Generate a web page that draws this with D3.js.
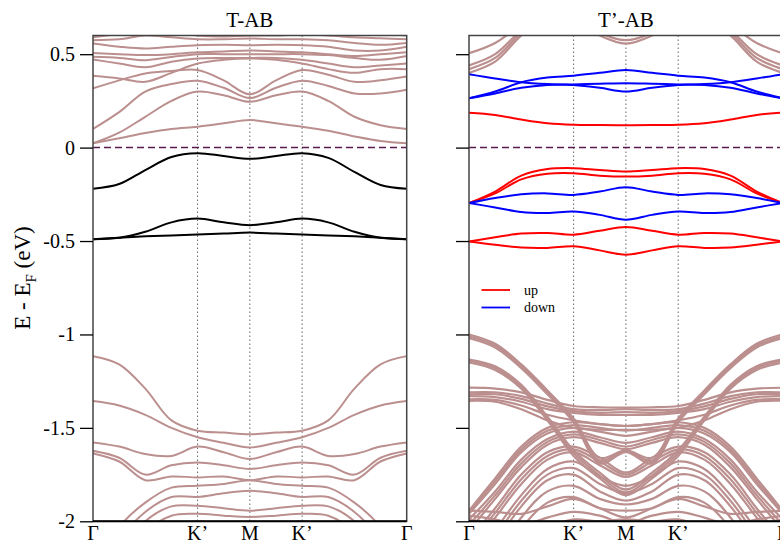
<!DOCTYPE html>
<html>
<head>
<meta charset="utf-8">
<script src="https://cdn.jsdelivr.net/npm/d3@7"></script>
<style>
  body { margin: 0; background: #fff; }
  text { font-family: "Liberation Serif", "Times New Roman", serif; }
</style>
</head>
<body>
<svg width="780" height="543"></svg>
<script>
// k path: Γ - K' - M - K' - Γ, sampled every 0.25
const kGrid = [0, 0.25, 0.5, 0.75, 1, 1.25, 1.5, 1.75, 2, 2.25, 2.5, 2.75, 3];
const kTicks = [0, 1, 1.5, 2, 3];
const kLabels = ["Γ", "K’", "M", "K’", "Γ"];
const eTicks = [0.5, 0, -0.5, -1, -1.5, -2];
const eTickLabels = ["0.5", "0", "-0.5", "-1", "-1.5", "-2"];
const panelTitles = ["T-AB", "T’-AB"];

// T-AB : black bands (gap states)
const tabBlack = [
  [-0.22, -0.195, -0.12, -0.05, -0.03, -0.045, -0.06, -0.045, -0.03, -0.055, -0.13, -0.2, -0.22],
  [-0.49, -0.482, -0.45, -0.40, -0.38, -0.40, -0.415, -0.40, -0.38, -0.40, -0.45, -0.482, -0.49],
  [-0.49, -0.482, -0.475, -0.47, -0.465, -0.46, -0.455, -0.46, -0.465, -0.47, -0.475, -0.482, -0.49]
];
// T-AB : host bands
const tabBrown = [
  [0.023, 0.05, 0.078, 0.10, 0.112, 0.13, 0.148, 0.13, 0.112, 0.09, 0.06, 0.035, 0.023],
  [0.023, 0.08, 0.165, 0.25, 0.30, 0.28, 0.245, 0.28, 0.30, 0.25, 0.165, 0.12, 0.10],
  [0.10, 0.19, 0.30, 0.34, 0.358, 0.32, 0.265, 0.32, 0.358, 0.33, 0.29, 0.29, 0.31],
  [0.317, 0.36, 0.397, 0.41, 0.415, 0.36, 0.285, 0.36, 0.415, 0.39, 0.352, 0.36, 0.38],
  [0.384, 0.37, 0.352, 0.40, 0.45, 0.47, 0.477, 0.47, 0.45, 0.42, 0.40, 0.42, 0.42],
  [0.472, 0.45, 0.43, 0.46, 0.477, 0.48, 0.48, 0.48, 0.47, 0.45, 0.43, 0.44, 0.45],
  [0.486, 0.48, 0.468, 0.485, 0.50, 0.50, 0.50, 0.50, 0.50, 0.495, 0.48, 0.47, 0.49],
  [0.507, 0.50, 0.495, 0.50, 0.51, 0.515, 0.52, 0.515, 0.51, 0.50, 0.49, 0.50, 0.51],
  [0.557, 0.54, 0.53, 0.54, 0.548, 0.55, 0.548, 0.55, 0.548, 0.54, 0.52, 0.52, 0.54],
  [0.575, 0.58, 0.60, 0.59, 0.58, 0.58, 0.584, 0.58, 0.58, 0.575, 0.56, 0.55, 0.56],
  [0.59, 0.61, 0.63, 0.62, 0.60, 0.595, 0.60, 0.60, 0.605, 0.60, 0.59, 0.585, 0.58],
  [0.62, 0.64, 0.66, 0.65, 0.62, 0.61, 0.61, 0.62, 0.63, 0.65, 0.63, 0.61, 0.60],
  [-1.116, -1.16, -1.29, -1.46, -1.515, -1.525, -1.534, -1.525, -1.515, -1.46, -1.29, -1.16, -1.116],
  [-1.356, -1.38, -1.43, -1.50, -1.55, -1.58, -1.605, -1.58, -1.55, -1.50, -1.43, -1.38, -1.356],
  [-1.578, -1.60, -1.64, -1.65, -1.60, -1.63, -1.667, -1.63, -1.60, -1.65, -1.64, -1.60, -1.578],
  [-1.623, -1.66, -1.75, -1.70, -1.685, -1.70, -1.72, -1.70, -1.685, -1.70, -1.75, -1.66, -1.623],
  [-1.637, -1.68, -1.78, -1.76, -1.765, -1.76, -1.78, -1.76, -1.765, -1.76, -1.78, -1.68, -1.637],
  [-2.25, -2.03, -1.90, -1.82, -1.81, -1.80, -1.78, -1.80, -1.81, -1.82, -1.90, -2.03, -2.25],
  [-2.35, -2.10, -1.95, -1.87, -1.87, -1.85, -1.837, -1.85, -1.87, -1.87, -1.95, -2.10, -2.35],
  [-2.45, -2.18, -2.00, -1.92, -1.917, -1.93, -1.943, -1.93, -1.917, -1.92, -2.00, -2.18, -2.45],
  [-2.55, -2.28, -2.06, -1.97, -1.96, -1.97, -1.977, -1.97, -1.96, -1.97, -2.06, -2.28, -2.55],
  [-2.7, -2.4, -2.15, -2.03, -2.0, -2.02, -2.01, -2.02, -2.0, -2.03, -2.15, -2.4, -2.7]
];

// T'-AB : spin up / spin down gap states
const tpUp = [
  [0.187, 0.175, 0.15, 0.13, 0.122, 0.121, 0.12, 0.121, 0.122, 0.13, 0.15, 0.175, 0.187],
  [-0.297, -0.235, -0.15, -0.115, -0.11, -0.12, -0.128, -0.12, -0.11, -0.115, -0.15, -0.235, -0.297],
  [-0.297, -0.245, -0.17, -0.14, -0.137, -0.15, -0.155, -0.15, -0.137, -0.14, -0.17, -0.245, -0.297],
  [-0.502, -0.48, -0.46, -0.457, -0.466, -0.445, -0.425, -0.445, -0.466, -0.457, -0.46, -0.48, -0.502],
  [-0.502, -0.52, -0.535, -0.537, -0.528, -0.55, -0.573, -0.55, -0.528, -0.537, -0.535, -0.52, -0.502]
];
const tpDown = [
  [0.393, 0.37, 0.35, 0.34, 0.335, 0.32, 0.30, 0.32, 0.335, 0.34, 0.35, 0.37, 0.393],
  [0.264, 0.30, 0.35, 0.375, 0.385, 0.40, 0.415, 0.40, 0.385, 0.375, 0.35, 0.30, 0.264],
  [0.264, 0.29, 0.32, 0.335, 0.338, 0.342, 0.345, 0.342, 0.338, 0.335, 0.32, 0.29, 0.264],
  [-0.297, -0.27, -0.25, -0.245, -0.253, -0.235, -0.212, -0.235, -0.253, -0.245, -0.25, -0.27, -0.297],
  [-0.297, -0.32, -0.345, -0.35, -0.342, -0.36, -0.386, -0.36, -0.342, -0.35, -0.345, -0.32, -0.297]
];
// T'-AB : host bands
const tpBrown = [
  [0.505, 0.56, 0.66, 0.76, 0.82, 0.80, 0.78, 0.80, 0.82, 0.76, 0.66, 0.56, 0.505],
  [0.44, 0.50, 0.63, 0.74, 0.80, 0.78, 0.76, 0.78, 0.80, 0.74, 0.63, 0.50, 0.44],
  [0.42, 0.48, 0.615, 0.72, 0.78, 0.76, 0.74, 0.76, 0.78, 0.72, 0.615, 0.48, 0.42],
  [0.40, 0.46, 0.60, 0.70, 0.76, 0.74, 0.72, 0.74, 0.76, 0.70, 0.60, 0.46, 0.40],
  [0.95, 0.90, 0.84, 0.76, 0.69, 0.60, 0.557, 0.60, 0.69, 0.76, 0.84, 0.90, 0.95],
  [0.97, 0.92, 0.86, 0.78, 0.71, 0.615, 0.575, 0.615, 0.71, 0.78, 0.86, 0.92, 0.97],
  [-1.00, -1.05, -1.16, -1.30, -1.45, -1.66, -1.62, -1.66, -1.45, -1.30, -1.16, -1.05, -1.00],
  [-1.01, -1.06, -1.17, -1.31, -1.46, -1.675, -1.625, -1.675, -1.46, -1.31, -1.17, -1.06, -1.01],
  [-1.02, -1.07, -1.18, -1.32, -1.47, -1.69, -1.63, -1.69, -1.47, -1.32, -1.18, -1.07, -1.02],
  [-1.134, -1.17, -1.27, -1.44, -1.62, -1.74, -1.83, -1.74, -1.62, -1.44, -1.27, -1.17, -1.134],
  [-1.14, -1.18, -1.28, -1.45, -1.635, -1.755, -1.845, -1.755, -1.635, -1.45, -1.28, -1.18, -1.14],
  [-1.15, -1.19, -1.29, -1.46, -1.65, -1.77, -1.86, -1.77, -1.65, -1.46, -1.29, -1.19, -1.15],
  [-1.285, -1.29, -1.31, -1.35, -1.383, -1.39, -1.391, -1.39, -1.383, -1.35, -1.31, -1.29, -1.285],
  [-1.31, -1.31, -1.33, -1.37, -1.40, -1.405, -1.40, -1.405, -1.40, -1.37, -1.33, -1.31, -1.31],
  [-1.32, -1.32, -1.345, -1.385, -1.41, -1.42, -1.415, -1.42, -1.41, -1.385, -1.345, -1.32, -1.32],
  [-1.33, -1.335, -1.36, -1.40, -1.42, -1.43, -1.43, -1.43, -1.42, -1.40, -1.36, -1.335, -1.33],
  [-1.347, -1.35, -1.38, -1.43, -1.46, -1.48, -1.49, -1.48, -1.46, -1.43, -1.38, -1.35, -1.347],
  [-1.355, -1.36, -1.40, -1.46, -1.50, -1.51, -1.51, -1.51, -1.50, -1.46, -1.40, -1.36, -1.355],
  [-1.943, -1.77, -1.60, -1.50, -1.47, -1.48, -1.49, -1.48, -1.47, -1.50, -1.60, -1.77, -1.943],
  [-1.95, -1.785, -1.615, -1.515, -1.485, -1.50, -1.515, -1.50, -1.485, -1.515, -1.615, -1.785, -1.95],
  [-1.96, -1.80, -1.63, -1.53, -1.50, -1.52, -1.543, -1.52, -1.50, -1.53, -1.63, -1.80, -1.96],
  [-1.99, -1.84, -1.67, -1.56, -1.52, -1.55, -1.58, -1.55, -1.52, -1.56, -1.67, -1.84, -1.99],
  [-2.02, -1.86, -1.69, -1.575, -1.535, -1.565, -1.60, -1.565, -1.535, -1.575, -1.69, -1.86, -2.02],
  [-2.05, -1.88, -1.71, -1.59, -1.55, -1.58, -1.614, -1.58, -1.55, -1.59, -1.71, -1.88, -2.05],
  [-2.10, -1.93, -1.75, -1.63, -1.60, -1.66, -1.74, -1.66, -1.60, -1.63, -1.75, -1.93, -2.10],
  [-2.12, -1.955, -1.775, -1.65, -1.615, -1.68, -1.75, -1.68, -1.615, -1.65, -1.775, -1.955, -2.12],
  [-2.15, -1.98, -1.80, -1.67, -1.63, -1.70, -1.763, -1.70, -1.63, -1.67, -1.80, -1.98, -2.15],
  [-2.25, -2.05, -1.86, -1.72, -1.68, -1.76, -1.81, -1.76, -1.68, -1.72, -1.86, -2.05, -2.25],
  [-2.30, -2.085, -1.89, -1.75, -1.715, -1.80, -1.85, -1.80, -1.715, -1.75, -1.89, -2.085, -2.30],
  [-2.35, -2.12, -1.92, -1.78, -1.75, -1.84, -1.89, -1.84, -1.75, -1.78, -1.92, -2.12, -2.35],
  [-2.45, -2.20, -1.98, -1.84, -1.81, -1.88, -1.91, -1.88, -1.81, -1.84, -1.98, -2.20, -2.45],
  [-2.55, -2.28, -2.04, -1.90, -1.87, -1.93, -1.943, -1.93, -1.87, -1.90, -2.04, -2.28, -2.55],
  [-1.943, -1.95, -1.96, -1.92, -1.88, -1.93, -1.98, -1.93, -1.88, -1.92, -1.96, -1.95, -1.943],
  [-1.97, -1.99, -2.02, -1.98, -1.95, -1.97, -2.01, -1.97, -1.95, -1.98, -2.02, -1.99, -1.97],
  [-1.99, -2.02, -2.06, -2.03, -1.99, -2.0, -1.99, -2.0, -1.99, -2.03, -2.06, -2.02, -1.99]
];

const legendItems = [["up", "#ff0000"], ["down", "#0000ff"]];

var svg = d3.select("svg");
var plotTop = 35.5, plotBottom = 521.3;
var y = d3.scaleLinear().domain([-2, 0.6]).range([plotBottom, plotTop]);
var xL = d3.scaleLinear().domain([0, 3]).range([93, 406.7]);
var xR = d3.scaleLinear().domain([0, 3]).range([469, 782.8]);

var defs = svg.append("defs");

function drawPanel(x, id, title, groups, tickLabels) {
  var x0 = x.range()[0], x1 = x.range()[1];
  defs.append("clipPath").attr("id", id)
    .append("rect").attr("x", x0).attr("y", plotTop).attr("width", x1 - x0).attr("height", plotBottom - plotTop);
  var g = svg.append("g");

  // vertical dotted lines at high-symmetry points
  g.selectAll(".kline").data(kTicks.slice(1, 4)).enter().append("line")
    .attr("x1", d => x(d)).attr("x2", d => x(d))
    .attr("y1", plotTop).attr("y2", plotBottom)
    .attr("stroke", "#666").attr("stroke-width", 1).attr("stroke-dasharray", "1.5,2.5");

  var line = d3.line().x((d, i) => x(kGrid[i])).y(d => y(d)).curve(d3.curveCatmullRom.alpha(0.5));
  var bands = g.append("g").attr("clip-path", "url(#" + id + ")");
  groups.forEach(gr => {
    bands.selectAll(null).data(gr.data).enter().append("path")
      .attr("d", line).attr("fill", "none")
      .attr("stroke", gr.color).attr("stroke-width", gr.width);
  });

  // Fermi level
  g.append("line").attr("x1", x0).attr("x2", x1).attr("y1", y(0)).attr("y2", y(0))
    .attr("stroke", "#5a1a50").attr("stroke-width", 1.5).attr("stroke-dasharray", "7,4");

  // frame
  g.append("rect").attr("x", x0).attr("y", plotTop).attr("width", x1 - x0).attr("height", plotBottom - plotTop)
    .attr("fill", "none").attr("stroke", "#444").attr("stroke-width", 1.5);
  g.append("line").attr("x1", x0).attr("x2", x1).attr("y1", plotBottom).attr("y2", plotBottom)
    .attr("stroke", "#000").attr("stroke-width", 2);

  // y ticks
  var yAxis = d3.axisLeft(y).tickValues(eTicks).tickSize(13).tickPadding(5)
    .tickFormat((d, i) => tickLabels ? eTickLabels[i] : "");
  var ax = g.append("g").attr("transform", "translate(" + x0 + ",0)").call(yAxis);
  ax.select(".domain").remove();
  ax.selectAll("line").attr("stroke", "#000").attr("stroke-width", 1.3);
  ax.selectAll("text").attr("font-size", "20px").attr("font-family", "Liberation Serif, serif").attr("fill", "#000");

  // k labels
  g.selectAll(".klab").data(kTicks).enter().append("text")
    .attr("x", d => x(d)).attr("y", 540)
    .attr("text-anchor", "middle").attr("font-size", "20px")
    .text((d, i) => kLabels[i]);

  // title
  g.append("text").attr("x", (x0 + x1) / 2).attr("y", 27)
    .attr("text-anchor", "middle").attr("font-size", "21px").text(title);
}

drawPanel(xL, "clipL", panelTitles[0], [
  { data: tabBrown, color: "#bc8f8f", width: 2 },
  { data: tabBlack, color: "#000", width: 2 }
], true);

drawPanel(xR, "clipR", panelTitles[1], [
  { data: tpBrown, color: "#bc8f8f", width: 2.2 },
  { data: tpUp, color: "#ff0000", width: 2 },
  { data: tpDown, color: "#0000ff", width: 2 }
], false);

// legend
var lg = svg.append("g");
legendItems.forEach((d, i) => {
  var ly = 290 + i * 17.5;
  lg.append("line").attr("x1", 481.5).attr("x2", 510).attr("y1", ly).attr("y2", ly)
    .attr("stroke", d[1]).attr("stroke-width", 1.8);
  lg.append("text").attr("x", 524).attr("y", ly + 4.5).attr("font-size", "14px").text(d[0]);
});

// y axis label
var yl = svg.append("text").attr("transform", "translate(30,278) rotate(-90)")
  .attr("text-anchor", "middle").attr("font-size", "23px");
yl.append("tspan").text("E - E");
yl.append("tspan").attr("font-size", "15px").attr("dy", 6).text("F");
yl.append("tspan").attr("dy", -6).text(" (eV)");
</script>
</body>
</html>
